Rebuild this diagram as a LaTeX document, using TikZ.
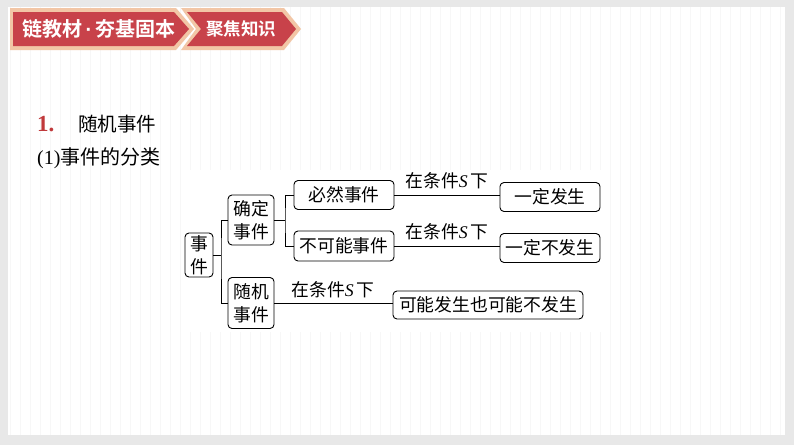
\documentclass[tikz,border=0pt]{standalone}
\usepackage{fontspec}
\setmainfont{Liberation Serif}
\newfontfamily\cjk{Noto Sans CJK SC}
\newfontfamily\cjkb{Noto Sans CJK SC Bold}
\newfontfamily\latb{Liberation Sans Bold}
\definecolor{frame}{HTML}{E8E8E8}
\definecolor{ribred}{HTML}{C8424A}
\definecolor{ribedge}{HTML}{F2C6A6}
\definecolor{numred}{HTML}{C0393B}
\definecolor{gridc}{HTML}{F7F7F7}
\newcommand{\condS}{在条件{\rmfamily\itshape S\,}下}
\begin{document}
\begin{tikzpicture}[x=1pt,y=-1pt,
  box/.style={draw, line width=0.9pt, rounded corners=4pt, inner sep=0pt, align=center,
    font=\cjk\fontsize{17.8}{23}\selectfont},
  lbl/.style={inner sep=0pt, font=\cjk\fontsize{17.8}{21}\selectfont},
  conn/.style={line width=0.9pt}]
\useasboundingbox (0,0) rectangle (794,445);
% frame and panel
\fill[frame] (0,0) rectangle (794,445);
\fill[white] (8,7) rectangle (785,435);
\begin{scope}
\clip (8,7) rectangle (785,435);
\draw[gridc, line width=0.4pt, step=10] (8,7) grid (785,435);
\end{scope}
% ribbon
\fill[ribedge] (10,8) -- (176,8) -- (194,29) -- (176,50) -- (10,50) -- cycle;
\fill[ribred] (13,12) -- (174,12) -- (189,29) -- (174,46) -- (13,46) -- cycle;
\fill[ribedge] (181,8) -- (284,8) -- (301,29) -- (284,50) -- (181,50) -- (196,29) -- cycle;
\fill[ribred] (187,12) -- (282,12) -- (296,29) -- (282,46) -- (187,46) -- (201,29) -- cycle;
\node[text=white, inner sep=0pt, font=\cjkb\fontsize{20}{20}\selectfont] (rib1) at (99,29) {链教材{\latb\fontsize{20}{20}\selectfont\,·\,}夯基固本};
\node[text=white, inner sep=0pt, font=\cjkb\fontsize{17.5}{18}\selectfont] (rib2) at (241,29) {聚焦知识};
% headings
\node[text=numred, inner sep=0pt, anchor=west, font=\bfseries\fontsize{23}{24}\selectfont] (num) at (37,124) {1.};
\node[inner sep=0pt, anchor=west, font=\cjk\fontsize{19.5}{20}\selectfont] (h1) at (78,124) {随机事件};
\node[inner sep=0pt, anchor=west, font=\fontsize{20}{20}\selectfont] (h2) at (37,158) {(1)\cjk 事件的分类};
% diagram background
\fill[white] (183,170) rectangle (606,332);
% boxes
\node[box, minimum width=28pt, minimum height=44pt] (sj) at (199,255) {事\\件};
\node[box, minimum width=46pt, minimum height=50pt] (qd) at (251,220) {确定\\事件};
\node[box, minimum width=46pt, minimum height=51pt] (sjj) at (251,303) {随机\\事件};
\node[box, minimum width=100pt, minimum height=29pt] (br) at (344,195) {必然事件};
\node[box, minimum width=100pt, minimum height=30pt] (bk) at (344,246) {不可能事件};
\node[box, minimum width=100pt, minimum height=29pt] (yd) at (550,197) {一定发生};
\node[box, minimum width=100pt, minimum height=29pt] (ybd) at (550,248) {一定不发生};
\node[box, minimum width=190pt, minimum height=28pt] (kn) at (488,305) {可能发生也可能不发生};
% connectors
\coordinate (b1) at (221,255);
\coordinate (b2) at (285,220);
\draw[conn] (sj.east) -- (b1);
\draw[conn] (qd.west) -| (b1) |- (sjj.west);
\draw[conn] (qd.east) -- (b2);
\draw[conn] (br.west) -| (b2) |- (bk.west);
\draw[conn] (br.east) -- (br.east -| yd.west);
\draw[conn] (bk.east) -- (bk.east -| ybd.west);
\draw[conn] (sjj.east) -- (sjj.east -| kn.west);
% labels
\node[lbl] (l1) at (447,181) {\condS};
\node[lbl] (l2) at (447,232) {\condS};
\node[lbl] (l3) at (333,290) {\condS};
\end{tikzpicture}
\end{document}
